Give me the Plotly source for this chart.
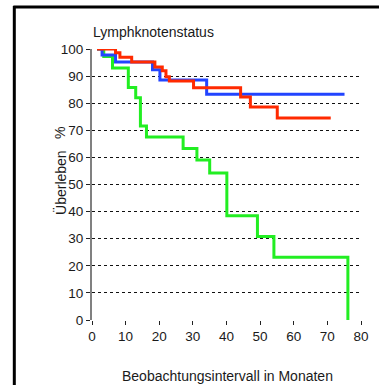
import plotly.graph_objects as go

# Kaplan-Meier step data (time in months, survival in %)
green_t = [1.5, 3.5, 6.1, 10.8, 13.0, 14.4, 16.2, 27.1, 31.2, 35.0, 40.1, 49.2, 54.1, 76.1, 76.1]
green_s = [100, 97.2, 93.0, 85.8, 82.0, 71.6, 67.5, 63.3, 59.0, 54.2, 38.5, 30.8, 23.2, 23.2, 0]

blue_t = [1.5, 3.0, 7.0, 18.0, 20.2, 34.1, 75.1]
blue_s = [100, 97.8, 95.2, 92.3, 88.6, 83.3, 83.3]

red_t = [1.5, 7.0, 8.3, 11.8, 18.7, 20.9, 22.0, 23.0, 30.2, 44.2, 47.1, 55.1, 71.0]
red_s = [100, 98.6, 97.0, 95.2, 93.4, 92.0, 89.8, 88.2, 85.7, 82.3, 78.6, 74.5, 74.5]

x_ticks = [0, 10, 20, 30, 40, 50, 60, 70, 80]
y_ticks = [0, 10, 20, 30, 40, 50, 60, 70, 80, 90, 100]

FONT = "Liberation Sans, Arial, sans-serif"

fig = go.Figure()
for t, s, c in [(green_t, green_s, "#22ee22"), (blue_t, blue_s, "#2244ff"), (red_t, red_s, "#ff2a00")]:
    fig.add_trace(go.Scatter(x=t, y=s, mode="lines", line=dict(color=c, width=3, shape="hv"),
                             cliponaxis=False, showlegend=False, hoverinfo="skip"))

px_x = lambda p: (p - 92) / 277
px_y = lambda p: (320 - p) / 271

fig.update_layout(
    width=379, height=385,
    margin=dict(l=92, r=10, t=49, b=65),
    paper_bgcolor="white", plot_bgcolor="white",
    font=dict(family=FONT, size=13.5, color="#1a1a1a"),
    xaxis=dict(range=[0, 80], tickvals=x_ticks, ticks="outside", ticklen=4, tickcolor="#222",
               showline=False, showgrid=False, zeroline=False, tickfont=dict(size=13.5)),
    yaxis=dict(range=[0, 100], tickvals=y_ticks, ticks="outside", ticklen=4, tickcolor="#222",
               showline=True, linecolor="#808080", linewidth=2, showgrid=True,
               gridcolor="#111", gridwidth=1, griddash="3px,3px", zeroline=False,
               tickfont=dict(size=13.5)),
    shapes=[
        dict(type="line", xref="paper", yref="paper", x0=px_x(11), x1=px_x(420),
             y0=px_y(7), y1=px_y(7), line=dict(color="black", width=3), layer="below"),
        dict(type="line", xref="paper", yref="paper", x0=px_x(12), x1=px_x(12),
             y0=px_y(6), y1=px_y(420), line=dict(color="black", width=3), layer="below"),
    ],
    annotations=[
        dict(text="Lymphknotenstatus", xref="paper", yref="paper", x=px_x(91), y=px_y(32),
             xanchor="left", yanchor="middle", showarrow=False, font=dict(size=14, color="#1a1a1a")),
        dict(text="Beobachtungsintervall in Monaten", xref="paper", yref="paper",
             x=px_x(232), y=px_y(376), xanchor="center", yanchor="middle",
             showarrow=False, font=dict(size=14, color="#1a1a1a")),
        dict(text="Überleben", xref="paper", yref="paper", x=px_x(59), y=px_y(182),
             xanchor="center", yanchor="middle", textangle=-90, showarrow=False,
             font=dict(size=14, color="#1a1a1a")),
        dict(text="%", xref="paper", yref="paper", x=px_x(59), y=px_y(133),
             xanchor="center", yanchor="middle", textangle=-90, showarrow=False,
             font=dict(size=14, color="#1a1a1a")),
    ],
)

fig.write_html("out.html")
